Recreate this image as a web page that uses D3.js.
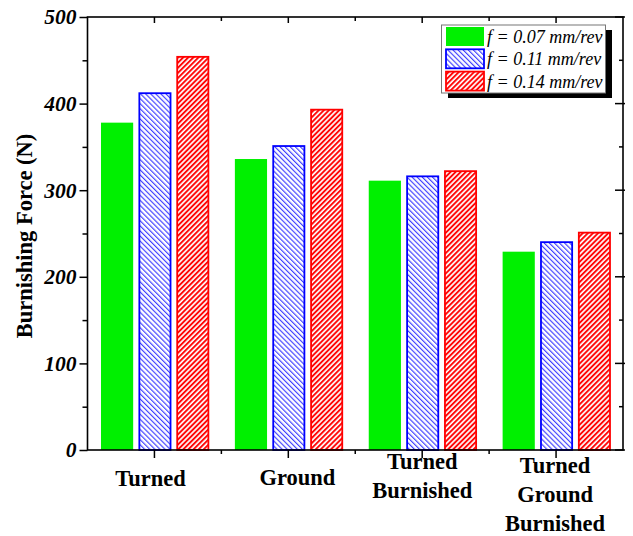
<!DOCTYPE html>
<html>
<head>
<meta charset="utf-8">
<script src="https://cdn.jsdelivr.net/npm/d3@7"></script>
<style>
  body { margin: 0; background: #fff; }
  svg { display: block; font-family: "Liberation Serif", "Times New Roman", serif; }
</style>
</head>
<body>
<div id="chart"></div>
<script>
// chart data
var categories = ["Turned", "Ground", "Turned Burnished", "Turned Ground Burnished"];
var catLines = [["Turned"], ["Ground"], ["Turned", "Burnished"], ["Turned", "Ground", "Burnished"]];
var seriesNames = ["f = 0.07 mm/rev", "f = 0.11 mm/rev", "f = 0.14 mm/rev"];
var feed007 = [378, 336, 311, 229];
var feed011 = [412, 351, 316, 240];
var feed014 = [454, 393, 322, 251];
var yTicks = [0, 100, 200, 300, 400, 500];
var yMinor = [50, 150, 250, 350, 450];

var series = [feed007, feed011, feed014];

// layout
var W = 633, H = 536;
var plot = {left: 87.5, right: 623, top: 17, bottom: 450};
var labelShift = [-4, 9, 0, -1];
var labelBase = [486, 485, 469, 473];
var lineGap = 29;

var svg = d3.select("#chart").append("svg")
    .attr("width", W)
    .attr("height", H);

// hatch patterns
var defs = svg.append("defs");
defs.append("pattern")
    .attr("id", "hatchBlue")
    .attr("patternUnits", "userSpaceOnUse")
    .attr("width", 3.6).attr("height", 3.6)
    .attr("patternTransform", "rotate(-45)")
  .append("line")
    .attr("x1", 0.6).attr("y1", 0).attr("x2", 0.6).attr("y2", 3.6)
    .attr("stroke", "#3333ff").attr("stroke-width", 1.1);
defs.append("pattern")
    .attr("id", "hatchRed")
    .attr("patternUnits", "userSpaceOnUse")
    .attr("width", 3.6).attr("height", 3.6)
    .attr("patternTransform", "rotate(45)")
  .append("line")
    .attr("x1", 1).attr("y1", 0).attr("x2", 1).attr("y2", 3.6)
    .attr("stroke", "#ff0000").attr("stroke-width", 1.9);

var fills = ["#00f000", "url(#hatchBlue)", "url(#hatchRed)"];
var strokes = ["#00f000", "#0000ff", "#ff0000"];

var x = d3.scaleBand()
    .domain(categories)
    .range([plot.left, plot.right]);

var xSub = d3.scaleBand()
    .domain(d3.range(series.length))
    .range([13.5, x.bandwidth() - 12.5])
    .paddingInner(0.15);

var y = d3.scaleLinear()
    .domain([0, 500])
    .range([plot.bottom, plot.top]);

// bars
series.forEach(function(vals, s) {
  svg.append("g").selectAll("rect")
      .data(vals)
      .enter().append("rect")
      .attr("x", function(d, i) { return x(categories[i]) + xSub(s) + (s ? 0.5 : 0); })
      .attr("y", function(d) { return y(d); })
      .attr("width", xSub.bandwidth() - (s ? 1 : 0))
      .attr("height", function(d) { return plot.bottom - y(d); })
      .attr("fill", fills[s])
      .attr("stroke", s ? strokes[s] : "none")
      .attr("stroke-width", 1.8);
});

// left axis
var yAx = svg.append("g")
    .attr("transform", "translate(" + plot.left + ",0)")
    .call(d3.axisLeft(y).tickValues(yTicks).tickSize(8).tickPadding(3));
yAx.select(".domain").remove();
yAx.selectAll("line").attr("stroke-width", 1.5);
yAx.selectAll("text")
    .attr("font-family", "Liberation Serif, serif")
    .attr("font-size", 21.5)
    .attr("font-weight", "bold")
    .attr("font-style", "italic")
    .attr("fill", "#000");

var yAxMin = svg.append("g")
    .attr("transform", "translate(" + plot.left + ",0)")
    .call(d3.axisLeft(y).tickValues(yMinor).tickSize(5).tickFormat(""));
yAxMin.select(".domain").remove();
yAxMin.selectAll("line").attr("stroke-width", 1.5);

// right axis (inward ticks)
var rAx = svg.append("g")
    .attr("transform", "translate(" + plot.right + ",0)");
rAx.selectAll("line.maj").data(yTicks).enter().append("line")
    .attr("x1", -8).attr("x2", 2)
    .attr("y1", function(d) { return y(d); }).attr("y2", function(d) { return y(d); })
    .attr("stroke", "#000").attr("stroke-width", 1.5);
rAx.selectAll("line.min").data(yMinor).enter().append("line")
    .attr("x1", -4).attr("x2", 0)
    .attr("y1", function(d) { return y(d); }).attr("y2", function(d) { return y(d); })
    .attr("stroke", "#000").attr("stroke-width", 1.5);

// bottom / top ticks
var centers = categories.map(function(c) { return x(c) + x.bandwidth() / 2; });
var bounds = categories.slice(1).map(function(c) { return x(c); });

svg.append("g").selectAll("line").data(centers).enter().append("line")
    .attr("x1", function(d) { return d; }).attr("x2", function(d) { return d; })
    .attr("y1", plot.bottom).attr("y2", plot.bottom + 8)
    .attr("stroke", "#000").attr("stroke-width", 1.5);
svg.append("g").selectAll("line").data(bounds).enter().append("line")
    .attr("x1", function(d) { return d; }).attr("x2", function(d) { return d; })
    .attr("y1", plot.bottom).attr("y2", plot.bottom + 4)
    .attr("stroke", "#000").attr("stroke-width", 1.5);
svg.append("g").selectAll("line").data(centers).enter().append("line")
    .attr("x1", function(d) { return d; }).attr("x2", function(d) { return d; })
    .attr("y1", plot.top).attr("y2", plot.top + 6)
    .attr("stroke", "#000").attr("stroke-width", 1.5);
svg.append("g").selectAll("line").data(bounds).enter().append("line")
    .attr("x1", function(d) { return d; }).attr("x2", function(d) { return d; })
    .attr("y1", plot.top).attr("y2", plot.top + 4)
    .attr("stroke", "#000").attr("stroke-width", 1.5);

// frame
svg.append("rect")
    .attr("x", plot.left).attr("y", plot.top)
    .attr("width", plot.right - plot.left).attr("height", plot.bottom - plot.top)
    .attr("fill", "none").attr("stroke", "#000").attr("stroke-width", 1.6);

// category labels
catLines.forEach(function(lines, i) {
  var t = svg.append("text")
      .attr("text-anchor", "middle")
      .attr("font-size", 22.5)
      .attr("font-weight", "bold")
      .attr("fill", "#000");
  lines.forEach(function(l, j) {
    t.append("tspan")
        .attr("x", centers[i] + labelShift[i])
        .attr("y", labelBase[i] + j * lineGap)
        .text(l);
  });
});

// y title
svg.append("text")
    .attr("transform", "translate(32," + 236 + ") rotate(-90)")
    .attr("text-anchor", "middle")
    .attr("font-size", 22.5)
    .attr("font-weight", "bold")
    .text("Burnishing Force (N)");

// legend
var leg = svg.append("g");
leg.append("rect")
    .attr("x", 448).attr("y", 30).attr("width", 164).attr("height", 68)
    .attr("fill", "#000");
leg.append("rect")
    .attr("x", 441.5).attr("y", 25).attr("width", 164).attr("height", 68)
    .attr("fill", "#fff").attr("stroke", "#777").attr("stroke-width", 1);
seriesNames.forEach(function(name, s) {
  var yy = 27 + s * 22.3;
  leg.append("rect")
      .attr("x", 446).attr("y", yy)
      .attr("width", 38).attr("height", 19)
      .attr("fill", fills[s])
      .attr("stroke", s ? strokes[s] : "none")
      .attr("stroke-width", 1.8);
  leg.append("text")
      .attr("x", 487).attr("y", yy + 16)
      .attr("font-size", 18)
      .attr("font-style", "italic")
      .attr("fill", "#000")
      .text(name);
});
</script>
</body>
</html>
